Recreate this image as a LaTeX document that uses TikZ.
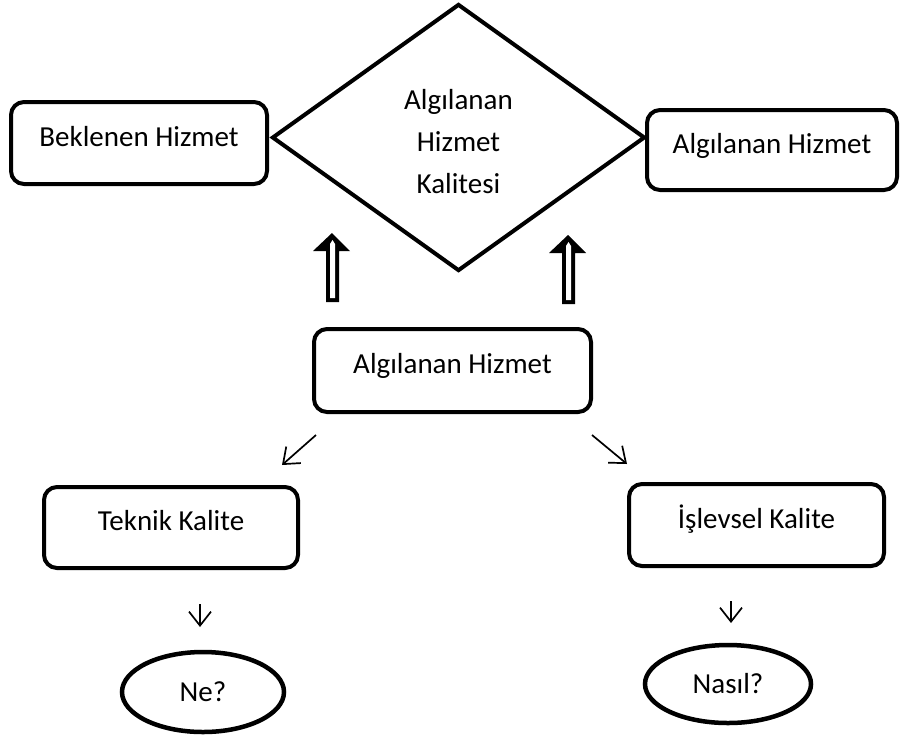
\documentclass[tikz,border=0pt]{standalone}
\usepackage{fontspec}
\setmainfont{Carlito}
\usetikzlibrary{shapes.geometric,arrows.meta}
\begin{document}
\begin{tikzpicture}[x=1pt,y=-1pt,
  txt/.style={font=\fontsize{29}{42}\selectfont},
  box/.style={draw, line width=4pt, rounded corners=13pt, inner sep=0pt,
    text height=40pt, text depth=34pt, txt},
  oval/.style={draw, ellipse, line width=4.5pt, inner sep=0pt, txt},
  thinarrow/.style={line width=1.7pt, -{Straight Barb[length=14pt,width=22pt,line width=1.7pt]}},
  uparrowsym/.pic={
    \fill (0,0) -- (18,18) -- (7,18) -- (7,69) -- (-6,69) -- (-6,18) -- (-19,18) -- cycle;
    \fill[white] (0.5,7) -- (3,11) -- (3,65) -- (-2,65) -- (-2,11) -- cycle;
  }]
\useasboundingbox[fill=white] (0,0) rectangle (901,740);

% diamond
\node[draw, diamond, line width=4pt, minimum width=373pt, minimum height=267pt,
      inner sep=0pt, txt] (q) at (458.5,137.5) {};
\node[align=center, txt, inner sep=0pt] (qt) at (458.5,142) {Algılanan\\Hizmet\\Kalitesi};

% boxes
\node[box, minimum width=256pt, minimum height=82pt] (bek) at (139,143) {Beklenen Hizmet};
\node[box, minimum width=250pt, minimum height=80pt] (alr) at (772,150) {Algılanan Hizmet};
\node[box, minimum width=277pt, minimum height=83pt] (alm) at (452.5,370.5) {Algılanan Hizmet};
\node[box, minimum width=254pt, minimum height=81pt] (tek) at (171,527.5) {Teknik Kalite};
\node[box, minimum width=255pt, minimum height=82pt] (isl) at (756.5,525) {İşlevsel Kalite};

% ovals
\node[oval, minimum width=162pt, minimum height=80pt] (ne) at (203,692) {Ne?};
\node[oval, minimum width=166pt, minimum height=78pt] (nas) at (728,684) {Nasıl?};

% outlined up arrows
\pic at (332,233) {uparrowsym};
\pic at (568,235) {uparrowsym};

% thin arrows
\coordinate (d1s) at (316,435); \coordinate (d1e) at (282,465);
\coordinate (d2s) at (592,435); \coordinate (d2e) at (627,464);
\coordinate (v1s) at (200,604); \coordinate (v1e) at (200,627);
\coordinate (v2s) at (731,601); \coordinate (v2e) at (731,623);
\draw[thinarrow] (d1s) -- (d1e);
\draw[thinarrow] (d2s) -- (d2e);
\draw[thinarrow] (v1s) -- (v1e);
\draw[thinarrow] (v2s) -- (v2e);
\end{tikzpicture}
\end{document}
